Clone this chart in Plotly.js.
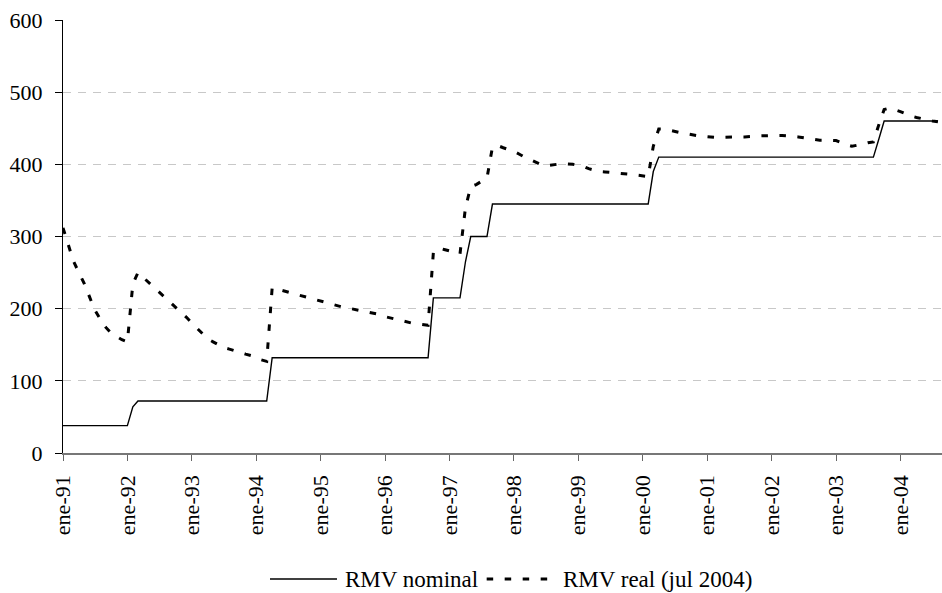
<!DOCTYPE html>
<html>
<head>
<meta charset="utf-8">
<script src="https://cdn.plot.ly/plotly-3.0.1.min.js"></script>
<style>
html,body{margin:0;padding:0;background:#ffffff;}
#chart{width:942px;height:593px;}
</style>
</head>
<body>
<div id="chart"></div>
<script>
// Monthly series, January 1991 to August 2004
const startYear = 1991;

const nominal = [
  38,38,38,38,38,38,38,38,38,38,38,38,            // 1991
  38,64,72,72,72,72,72,72,72,72,72,72,            // 1992
  72,72,72,72,72,72,72,72,72,72,72,72,            // 1993
  72,72,72,132,132,132,132,132,132,132,132,132,   // 1994
  132,132,132,132,132,132,132,132,132,132,132,132,// 1995
  132,132,132,132,132,132,132,132,132,215,215,215,// 1996
  215,215,215,265,300,300,300,300,345,345,345,345,// 1997
  345,345,345,345,345,345,345,345,345,345,345,345,// 1998
  345,345,345,345,345,345,345,345,345,345,345,345,// 1999
  345,345,390,410,410,410,410,410,410,410,410,410,// 2000
  410,410,410,410,410,410,410,410,410,410,410,410,// 2001
  410,410,410,410,410,410,410,410,410,410,410,410,// 2002
  410,410,410,410,410,410,410,410,435,460,460,460,// 2003
  460,460,460,460,460,460,460,460                 // 2004
];

const real = [
  312,286,266,250,235,216,198,185,174,166,161,157,              // 1991
  154,234,250,243,236,229,222,215,209,202,195,188,              // 1992
  180,172,165,158,154,150,146,144,142,139.5,137,135,            // 1993
  131,128.5,127,229,227,224,222,220,218,216,214,212,            // 1994
  210,208,206,204,202.5,201,199.5,198,196.5,195,194,192,        // 1995
  189,187,185,183.5,182,180,179,178,177,278,284,282,            // 1996
  280,278,276,340,369,372,376,381,424,426,423,421,              // 1997
  418,414,410,407,403,400,398,398.5,400,401,401,400,            // 1998
  398.5,397,394,392,390,389.5,389,388,387,386.5,386,385,        // 1999
  384,383,425,449,449,447,445.5,444,442.5,441,440,439,          // 2000
  438,437,437,437.5,438,438,438,438,438,439,439.5,440,          // 2001
  440,440,440,440,439,438,437,435.5,434,433.5,433.5,433.5,      // 2002
  433,430,427,425,426,428,430,431,455,476,478,476,              // 2003
  473,470,467,465,463,461.5,460,459                             // 2004
];

const tickYears = [1991,1992,1993,1994,1995,1996,1997,1998,1999,2000,2001,2002,2003,2004];
const tickLabels = ["ene-91","ene-92","ene-93","ene-94","ene-95","ene-96","ene-97",
                    "ene-98","ene-99","ene-00","ene-01","ene-02","ene-03","ene-04"];
const seriesNames = ["RMV nominal", "RMV real (jul 2004)"];
const yTicks = [0,100,200,300,400,500,600];

function pad(n){ return (n < 10 ? "0" : "") + n; }
const months = nominal.map(function(_, i){
  const y = startYear + Math.floor(i / 12);
  const m = (i % 12) + 1;
  return y + "-" + pad(m) + "-01";
});
const tickVals = tickYears.map(function(y){ return y + "-01-01"; });

const FONT = "Liberation Serif";
const SOLID = {color: "#000000", width: 1.4};
const DASHED = {color: "#000000", width: 3, dash: "6.5px,11.5px"};

const traces = [
  {x: months, y: nominal, name: seriesNames[0], type: "scatter", mode: "lines",
   line: SOLID, hoverinfo: "skip", showlegend: false},
  {x: months, y: real, name: seriesNames[1], type: "scatter", mode: "lines",
   line: DASHED, hoverinfo: "skip", showlegend: false}
];

// Legend drawn below the plot (paper coordinates)
const legY = -0.291;
const shapes = [
  {type: "line", xref: "paper", yref: "paper", x0: 0.2355, x1: 0.3117, y0: legY, y1: legY, line: SOLID},
  {type: "line", xref: "paper", yref: "paper", x0: 0.4820, x1: 0.5518, y0: legY, y1: legY, line: DASHED}
];
const annotations = [
  {xref: "paper", yref: "paper", x: 0.3185, y: legY, xanchor: "left", yanchor: "middle",
   text: seriesNames[0], showarrow: false, font: {family: FONT, size: 23, color: "#000000"}},
  {xref: "paper", yref: "paper", x: 0.5662, y: legY, xanchor: "left", yanchor: "middle",
   text: seriesNames[1], showarrow: false, font: {family: FONT, size: 23, color: "#000000"}}
];

const layout = {
  width: 942, height: 593,
  margin: {l: 63, r: 0, t: 20, b: 140},
  paper_bgcolor: "#ffffff", plot_bgcolor: "#ffffff",
  font: {family: FONT, size: 22, color: "#000000"},
  showlegend: false,
  shapes: shapes,
  annotations: annotations,
  xaxis: {
    type: "date", range: ["1991-01-01", "2004-08-24"],
    tickmode: "array", tickvals: tickVals, ticktext: tickLabels, tickangle: -90,
    ticks: "outside", ticklen: 6, tickwidth: 1, tickcolor: "#666666", ticklabelstandoff: 6,
    showline: true, linecolor: "#777777", linewidth: 1.5, showgrid: false, zeroline: false,
    tickfont: {family: FONT, size: 22, color: "#000000"}
  },
  yaxis: {
    range: [0, 600], tickmode: "array", tickvals: yTicks, ticktext: yTicks.map(String),
    ticks: "outside", ticklen: 7, tickwidth: 1, tickcolor: "#000000", ticklabelstandoff: 8,
    showline: true, linecolor: "#000000", linewidth: 1,
    showgrid: true, gridcolor: "#c8c8c8", gridwidth: 1, griddash: "8px,7px", zeroline: false,
    tickfont: {family: FONT, size: 22, color: "#000000"}
  }
};

Plotly.newPlot("chart", traces, layout, {displayModeBar: false, staticPlot: true});
</script>
</body>
</html>
